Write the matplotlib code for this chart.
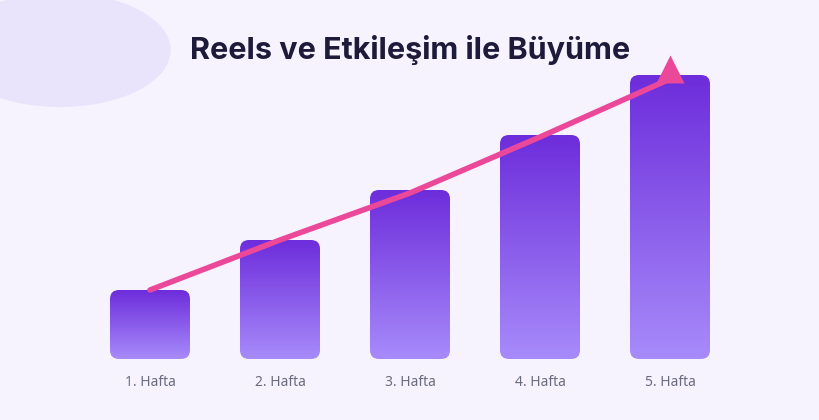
import numpy as np
import matplotlib.pyplot as plt
from matplotlib.patches import FancyBboxPatch, Circle
from matplotlib.colors import LinearSegmentedColormap

# ── Data ─────────────────────────────────────────────────────────────────────
weeks = ['1. Hafta', '2. Hafta', '3. Hafta', '4. Hafta', '5. Hafta']
values = [69, 119, 169, 224, 284]
trend = [69, 119, 166, 222, 280]
title = 'Reels ve Etkileşim ile Büyüme'

# ── Figure ───────────────────────────────────────────────────────────────────
fig = plt.figure(figsize=(8.2, 4.2), dpi=100)
fig.patch.set_facecolor('#f6f2fe')
ax = fig.add_axes([0, 0, 1, 1])
ax.set_facecolor('#f6f2fe')
ax.set_xlim(-150 / 130, 670 / 130)
ax.set_ylim(-61, 359)
ax.axis('off')

# decorative circle (top-left)
ax.add_patch(Circle((0.0, 0.0), 1, transform=fig.transFigure, alpha=0))
fig.patches.append(plt.Circle((60 / 820, 1 - 50 / 420), 110 / 820,
                              transform=fig.transFigure, color='#e9e4fb',
                              zorder=0))

cmap = LinearSegmentedColormap.from_list('bar', ['#a78bfa', '#6d2ddb'])
grad = np.linspace(0, 1, 256).reshape(-1, 1)
w = 80 / 130
for i, v in enumerate(values):
    box = FancyBboxPatch((i - w / 2, 0), w, v,
                         boxstyle='round,pad=0,rounding_size=%f' % (9 / 130),
                         mutation_aspect=130, facecolor='none',
                         edgecolor='none')
    ax.add_patch(box)
    im = ax.imshow(grad, cmap=cmap, origin='lower', aspect='auto',
                   extent=(i - w / 2, i + w / 2, 0, v), zorder=2)
    im.set_clip_path(box)
    ax.text(i, -23, weeks[i], ha='center', va='center', fontsize=10,
            color='#6b6b80', family='Noto Sans')

x = np.arange(len(trend))
ax.plot(x, trend, color='#ec4899', lw=4, solid_capstyle='round', zorder=3)
ax.plot([x[-1]], [trend[-1] + 10], marker='^', ms=20, color='#ec4899',
        mec='none', zorder=4)

fig.text(0.5, 1 - 50 / 420, title, ha='center', va='center', fontsize=22,
         fontweight='bold', color='#1e1b3a', family='Inter')

fig.savefig('out.png', dpi=100, facecolor=fig.get_facecolor())
